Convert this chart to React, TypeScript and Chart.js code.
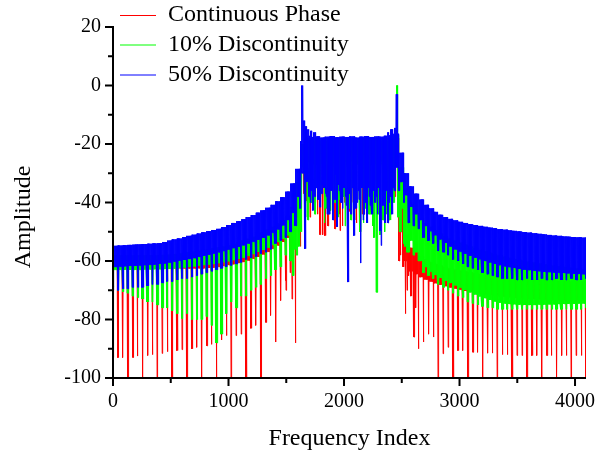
import React, { useEffect, useRef } from 'react';
import { Chart, registerables } from 'chart.js';
Chart.register(...registerables);

// ---------------- data ----------------
const X_MAX = 4095;
const xTicks = [0, 1000, 2000, 3000, 4000];
const xMinorTicks = [500, 1500, 2500, 3500];
const yTicks = [-100, -80, -60, -40, -20, 0, 20];
const yMinorTicks = [-90, -70, -50, -30, -10, 10];
const seriesNames = ['Continuous Phase', '10% Discontinuity', '50% Discontinuity'];
const seriesColors = ['#ff0000', '#00ff00', '#0000ff'];

// The spectrum repeats in "teeth" of 128/3 bins; one row = one 128-bin block (3 teeth).
// Band = dense fill between top and low of each tooth.
const SEGMENT = 128;
const SPIKE_OFFSETS = [0, 43, 85];

const blueTop = [
  [-54.8, -54.7, -54.6], [-54.5, -54.4, -54.3], [-54.2, -54.1, -54.0], [-53.9, -53.5, -53.0],
  [-52.6, -52.3, -51.8], [-51.4, -51.0, -50.6], [-50.2, -49.8, -49.4], [-49.0, -48.4, -47.7],
  [-47.0, -46.4, -45.7], [-45.0, -44.3, -43.5], [-42.7, -41.8, -40.8], [-39.6, -38.2, -36.3],
  [-33.5, -28.5, -19], [-17.2, -17.6, -17.4], [-17.8, -17.5, -17.3], [-17.7, -17.5, -17.6],
  [-17.4, -17.8, -17.5], [-17.3, -17.6, -17.4], [-17.5, -17.2, -17.0], [-16.5, -23, -30],
  [-34.5, -37, -39], [-40.8, -42, -43.2], [-44.2, -45, -45.6], [-46.1, -46.6, -47],
  [-47.4, -47.7, -48], [-48.3, -48.6, -48.8], [-49.1, -49.3, -49.5], [-49.7, -49.9, -50.1],
  [-50.3, -50.5, -50.7], [-50.9, -51.1, -51.3], [-51.4, -51.6, -51.7], [-51.8, -51.9, -52],
];
const blueLow = [
  [-62, -61.9, -61.8], [-61.7, -61.6, -61.5], [-61.4, -61.3, -61.2], [-61.0, -60.8, -60.5],
  [-60.2, -59.9, -59.6], [-59.3, -59.0, -58.6], [-58.2, -57.8, -57.4], [-57.0, -56.6, -56.1],
  [-55.6, -55.1, -54.6], [-54.0, -53.4, -52.7], [-52.0, -51.2, -50.3], [-49.2, -47.8, -46],
  [-43.5, -38, -30], [-30.5, -31, -30.2], [-30.8, -31.4, -30.3], [-30.6, -31.2, -30.4],
  [-30.9, -30.2, -31.1], [-30.5, -30.8, -30.1], [-30.6, -30.3, -29.8], [-28, -33, -37.5],
  [-41.5, -44, -46], [-48, -49.8, -51.2], [-52.6, -53.8, -55], [-56, -56.8, -57.5],
  [-58.2, -58.8, -59.4], [-60, -60.5, -61], [-61.4, -61.8, -62.1], [-62.4, -62.7, -62.9],
  [-63.1, -63.3, -63.5], [-63.7, -63.8, -63.9], [-64, -64.1, -64.2], [-64.3, -64.4, -64.5],
];
const greenTop = [
  [-58, -58, -58], [-58, -58, -58], [-58, -58, -58], [-58, -57.9, -57.8],
  [-57.6, -57.4, -57.2], [-57, -56.8, -56.5], [-56.2, -55.9, -55.6], [-55.3, -55.0, -54.6],
  [-54.1, -53.6, -53.0], [-52.4, -51.7, -51.0], [-50.2, -49.3, -48.3], [-47.2, -46, -44.5],
  [-41.5, -33, -20], [-18, -18, -18], [-18, -18, -18], [-18, -18, -18],
  [-18, -18, -18], [-18, -18, -18], [-18, -18, -18], [-17, -28, -35],
  [-40.5, -43.5, -45.5], [-47, -48.3, -49.5], [-50.6, -51.5, -52.3], [-53, -53.7, -54.4],
  [-55, -55.6, -56.2], [-56.7, -57.2, -57.7], [-58.1, -58.5, -58.9], [-59.3, -59.6, -59.9],
  [-60.2, -60.5, -60.8], [-61.1, -61.4, -61.6], [-61.8, -62, -62.2], [-62.4, -62.6, -62.8],
];
const greenLow = [
  [-63, -63, -63], [-63, -63, -63], [-62.9, -62.9, -62.8], [-62.8, -62.7, -62.6],
  [-62.5, -62.4, -62.2], [-62, -61.8, -61.6], [-61.4, -61.2, -61], [-60.7, -60.4, -60.1],
  [-59.7, -59.3, -58.8], [-58.2, -57.6, -56.9], [-56.2, -55.4, -54.5], [-53.5, -52.4, -51.2],
  [-49.5, -42, -28], [-27, -27, -27], [-27, -27, -27], [-27, -27, -27],
  [-27, -27, -27], [-27, -27, -27], [-27, -27, -27], [-27, -42, -48],
  [-53, -57, -60], [-62, -63.6, -64.8], [-65.8, -66.7, -67.5], [-68.3, -69.1, -69.9],
  [-70.7, -71.4, -72.1], [-72.7, -73.3, -73.8], [-74.2, -74.5, -74.7], [-74.8, -74.9, -75],
  [-75, -75, -74.9], [-74.9, -74.8, -74.8], [-74.7, -74.7, -74.6], [-74.6, -74.5, -74.5],
];
const redTop = [
  [-60, -60, -60], [-60, -60, -60], [-60, -60, -60], [-60, -60, -60],
  [-60, -60, -60], [-60, -60, -60], [-60, -59.9, -59.7], [-59.5, -59.2, -58.9],
  [-58.6, -58.2, -57.8], [-57.3, -56.7, -56], [-55.2, -54.3, -53.3], [-52.2, -51, -49.5],
  [-46, -36, -21], [-19, -19, -19], [-19, -19, -19], [-19, -19, -19],
  [-19, -19, -19], [-19, -19, -19], [-19, -19, -19], [-18, -40, -51],
  [-55.5, -57, -58.3], [-59.4, -60.3, -61], [-61.6, -62.1, -62.5], [-62.9, -63.2, -63.5],
  [-63.8, -64.1, -64.4], [-64.7, -64.9, -65.1], [-65.3, -65.5, -65.7], [-65.9, -66, -66.1],
  [-66.2, -66.3, -66.4], [-66.5, -66.6, -66.7], [-66.8, -66.8, -66.9], [-66.9, -67, -67],
];
const redLow = [
  [-62.5, -62.5, -62.5], [-62.5, -62.5, -62.5], [-62.5, -62.5, -62.5], [-62.5, -62.5, -62.5],
  [-62.5, -62.5, -62.5], [-62.5, -62.5, -62.5], [-62.5, -62.4, -62.2], [-62, -61.7, -61.4],
  [-61.1, -60.7, -60.3], [-59.8, -59.2, -58.5], [-57.7, -56.8, -55.8], [-54.7, -53.5, -52],
  [-52, -45, -27], [-26, -26, -26], [-26, -26, -26], [-26, -26, -26],
  [-26, -26, -26], [-26, -26, -26], [-26, -26, -26], [-26, -50, -60],
  [-63.5, -64.5, -65.5], [-66.3, -67, -67.6], [-68.1, -68.6, -69], [-69.4, -69.8, -70.2],
  [-70.5, -70.8, -71.1], [-71.4, -71.6, -71.8], [-72, -72.2, -72.4], [-72.6, -72.7, -72.8],
  [-72.9, -73, -73.1], [-73.2, -73.3, -73.4], [-73.4, -73.5, -73.5], [-73.5, -73.5, -73.5],
];

// periodic downward spikes at the start of each tooth
const redSpikes = [
  [-93, -93, -93], [-100, -93, -92.5], [-100, -92.3, -92], [-100, -91.6, -91], [-100, -90.6, -90.3],
  [-100, -90, -89.5], [-100, -89, -88.5], [-100, -87, -85.5], [-100, -85.5, -85], [-100, -83, -82],
  [-100, -81, -78.6], [-87.7, -73.5, -66.7], [-64, -88, -55], [-40, -45, -38], [-51, -42, -47],
  [-49, -44, -40], [-43, -46, -41], [-44, -39, -45], [-47, -42, -38], [-36, -60, -62],
  [-65, -86, -90], [-87.7, -85, -86], [-100, -91.7, -89.5], [-100, -90.6, -90.6], [-100, -91.2, -91.2],
  [-100, -91.5, -91.5], [-100, -92, -92], [-100, -92.3, -92.3], [-100, -92.3, -92.3], [-100, -92.3, -92.3],
  [-100, -92.3, -92.3], [-100, -92.3, -92.3], [-100],
];
const greenSpikes = [
  [-69, -70, -70.5], [-71, -72, -72.5], [-73, -74, -74], [-75, -76, -76], [-77, -78, -79.7],
  [-78, -80, -80], [-80, -79, -82], [-88, -85, -78], [-74, -76, -72], [-72, -70, -69],
  [-68, -66, -65], [-63, -62, -58], [-60, -56, -50], [-45, -40, -43], [-38, -47, -41],
  [-44, -39, -48], [-42, -46, -39], [-47, -41, -52], [-44, -50, -46], [-40, -50, -54],
  [-57, -58, -60], [-64, -65, -66], [-68, -69, -70], [-71, -72, -72.5], [-74, -74.5, -75],
  [-75.5, -76, -76], [-76.5, -76.5, -76.5], [-76.5, -76.5, -76.5], [-76.5, -76.5, -76.5], [-76.5, -76.5, -76.5],
  [-76.5, -76.5, -76.5], [-76.5, -76.5, -76.5], [-76],
];
const blueSpikes = [
  [-70, -70, -69.5], [-69.5, -69, -69], [-69, -68.5, -68], [-68, -67.5, -67], [-67, -66.5, -66],
  [-66, -65.5, -65], [-64.5, -64, -63.5], [-63, -62.5, -62], [-61.5, -61, -60.5], [-59.5, -59, -58.5],
  [-57.5, -57, -56], [-54, -53, -52], [-50, -48, -42], [-36, -40, -38], [-42, -37, -44],
  [-39, -45, -36], [-41, -38, -43], [-44, -37, -40], [-38, -42, -45], [-40, -36, -40],
  [-47, -48, -49], [-52, -53, -54], [-56.5, -57, -58], [-59.5, -60, -61], [-62, -62.5, -63],
  [-64, -64.5, -65], [-65.5, -66, -66], [-66, -66.5, -66.5], [-66, -66.5, -66.5], [-66, -66.5, -66.5],
  [-66, -66.5, -66.5], [-66, -66.5, -66.5], [-66],
];

// irregular spikes and peaks: [index, amplitude]
const blueExtras = [
  [1640, 0], [1652, -12], [1668, -14], [1690, -15], [1715, -15.5], [1745, -16], [2380, -16], [2410, -15],
  [2444, -14.5], [2458, -3],
  [1662, -55.8], [1700, -38], [1732, -42.7], [1760, -35], [1792, -41.6], [1815, -34], [1850, -38],
  [1870, -40], [1905, -46], [1940, -48.3], [1960, -36], [1990, -42], [2010, -38], [2035, -67.2],
  [2060, -44], [2090, -51.3], [2110, -40], [2147, -60.7], [2165, -46], [2199, -47], [2220, -38],
  [2240, -44], [2270, -40], [2290, -44], [2312, -49.6], [2326, -54.7], [2345, -40], [2355, -47],
  [2381, -47], [2400, -38], [2416, -44], [2436, -36],
  [1676, -33], [1722, -36], [1776, -39], [1804, -37], [1830, -35], [1860, -44], [1886, -36],
  [1920, -39], [1950, -34], [1976, -40], [2000, -35], [2024, -41], [2048, -37], [2076, -35],
  [2100, -42], [2124, -36], [2136, -39], [2156, -35], [2186, -40], [2210, -35], [2230, -41],
  [2256, -36], [2280, -38], [2300, -35], [2334, -41], [2366, -36], [2390, -40], [2426, -35],
];
const greenExtras = [
  [2460, 0], [1640, -20],
  [1560, -65], [1590, -58], [1610, -55], [1625, -50],
  [1688, -46], [1720, -40], [1750, -44], [1780, -38], [1840, -42], [1879, -42.7], [1920, -40],
  [1950, -45], [2000, -38], [2060, -46], [2100, -40], [2140, -50], [2180, -42], [2220, -44],
  [2250, -48], [2283, -70.7], [2310, -51], [2340, -46], [2370, -44], [2395, -46], [2420, -40],
  [2470, -45], [2490, -50], [2525, -55], [2545, -57],
];
const redExtras = [
  [1630, -28], [1650, -37], [1680, -39.4], [1710, -36], [1750, -40], [1770, -44], [1818, -51],
  [1835, -51.3], [1860, -48], [1875, -42.7], [1900, -40], [1940, -44], [1965, -49.6], [1985, -48],
  [2030, -42], [2080, -40], [2110, -47], [2140, -44], [2160, -44], [2200, -40], [2225, -43],
  [2260, -38], [2300, -42], [2340, -44], [2380, -46], [2410, -42], [2440, -38],
  [1500, -70], [1550, -73],
  [2470, -52], [2490, -58], [2505, -62], [2530, -78], [2545, -70], [2580, -72], [2620, -76],
];

// ---------------- series construction ----------------
function buildSeries(top: number[][], low: number[][], spikes: number[][], extras: number[][], halfWidth: number) {
  const topFlat = top.flat();
  const lowFlat = low.flat();
  const toothOf = (i: number) => Math.min(topFlat.length - 1, Math.floor((i * 3) / SEGMENT));
  const vals = new Map<number, number>();
  for (let i = 0; i <= X_MAX; i += 2) {
    const t = toothOf(i);
    vals.set(i, (i / 2) % 2 === 0 ? topFlat[t] : lowFlat[t]);
  }
  // a spike replaces only the "low" samples (downward) or the "top" samples (upward peaks)
  const put = (idx: number, v: number) => {
    const c = Math.min(X_MAX - 1, Math.max(0, Math.round(idx / 2) * 2));
    const t = toothOf(c);
    const upward = v > (topFlat[t] + lowFlat[t]) / 2;
    for (let k = c - halfWidth; k <= c + halfWidth; k += 2) {
      if (k < 0 || k > X_MAX) continue;
      const isTopSlot = (k / 2) % 2 === 0;
      if (isTopSlot === upward) vals.set(k, v);
    }
  };
  spikes.forEach((row, k) => row.forEach((v, j) => put(k * SEGMENT + SPIKE_OFFSETS[j], v)));
  extras.forEach(([idx, v]) => put(idx, v));
  return Array.from(vals.entries())
    .sort((a, b) => a[0] - b[0])
    .map(([x, y]) => ({ x, y }));
}

const FONT = "'Liberation Serif', 'Times New Roman', serif";

const decorPlugin = {
  id: 'decor',
  afterDraw(chart: any) {
    const { ctx, chartArea: ca, scales } = chart;
    const xs = scales.x;
    const ys = scales.y;
    ctx.save();
    ctx.strokeStyle = '#000';
    ctx.lineWidth = 2;
    ctx.beginPath();
    ctx.moveTo(ca.left, ca.top - 1);
    ctx.lineTo(ca.left, ca.bottom);
    ctx.lineTo(ca.right, ca.bottom);
    ctx.stroke();
    ctx.beginPath();
    yTicks.forEach((v) => {
      const p = ys.getPixelForValue(v);
      ctx.moveTo(ca.left - 8, p);
      ctx.lineTo(ca.left, p);
    });
    yMinorTicks.forEach((v) => {
      const p = ys.getPixelForValue(v);
      ctx.moveTo(ca.left - 5, p);
      ctx.lineTo(ca.left, p);
    });
    xTicks.forEach((v) => {
      const p = xs.getPixelForValue(v);
      ctx.moveTo(p, ca.bottom);
      ctx.lineTo(p, ca.bottom + 8);
    });
    xMinorTicks.forEach((v) => {
      const p = xs.getPixelForValue(v);
      ctx.moveTo(p, ca.bottom);
      ctx.lineTo(p, ca.bottom + 5);
    });
    ctx.stroke();

    // axis titles
    ctx.fillStyle = '#000';
    ctx.font = `24px ${FONT}`;
    ctx.textAlign = 'center';
    ctx.textBaseline = 'alphabetic';
    ctx.fillText('Frequency Index', (ca.left + ca.right) / 2, 445);
    ctx.save();
    ctx.translate(30, 217);
    ctx.rotate(-Math.PI / 2);
    ctx.fillText('Amplitude', 0, 0);
    ctx.restore();

    // legend
    const rows = [15, 44.5, 74.5];
    ctx.textAlign = 'left';
    seriesNames.forEach((name, i) => {
      ctx.strokeStyle = seriesColors[i];
      ctx.lineWidth = 1;
      ctx.beginPath();
      ctx.moveTo(120, rows[i] + 0.5);
      ctx.lineTo(156, rows[i] + 0.5);
      ctx.stroke();
      ctx.fillStyle = '#000';
      ctx.fillText(name, 168, rows[i] + 6);
    });
    ctx.restore();
  },
};

export default function App() {
  const ref = useRef<HTMLCanvasElement | null>(null);
  useEffect(() => {
    if (!ref.current) return;
    const red = buildSeries(redTop, redLow, redSpikes, redExtras, 2);
    const green = buildSeries(greenTop, greenLow, greenSpikes, greenExtras, 6);
    const blue = buildSeries(blueTop, blueLow, blueSpikes, blueExtras, 6);
    const ds = (label: string, data: any[], color: string, order: number) => ({
      label,
      data,
      borderColor: color,
      backgroundColor: color,
      borderWidth: 1,
      pointRadius: 0,
      tension: 0,
      fill: false,
      order,
    });
    const chart = new Chart(ref.current, {
      type: 'line',
      data: {
        datasets: [
          ds(seriesNames[0], red, seriesColors[0], 2),
          ds(seriesNames[1], green, seriesColors[1], 1),
          ds(seriesNames[2], blue, seriesColors[2], 0),
        ],
      },
      options: {
        animation: false,
        responsive: false,
        parsing: false,
        normalized: true,
        events: [],
        layout: { padding: { left: 0, right: 10, top: 27, bottom: 0 } },
        plugins: { legend: { display: false }, tooltip: { enabled: false } },
        scales: {
          x: {
            type: 'linear',
            min: 0,
            max: X_MAX,
            grid: { display: false, drawTicks: false },
            border: { display: false },
            ticks: {
              padding: 12,
              color: '#000',
              font: { family: FONT, size: 20 },
              callback: (v: any) => String(v),
              maxRotation: 0,
            },
            afterBuildTicks: (s: any) => {
              s.ticks = xTicks.map((v) => ({ value: v }));
            },
            afterFit: (s: any) => {
              s.height = 79;
              s.paddingLeft = 0;
              s.paddingRight = 0;
            },
          },
          y: {
            type: 'linear',
            min: -100,
            max: 20,
            grid: { display: false, drawTicks: false },
            border: { display: false },
            ticks: {
              padding: 12,
              color: '#000',
              font: { family: FONT, size: 20 },
              callback: (v: any) => String(v),
            },
            afterBuildTicks: (s: any) => {
              s.ticks = yTicks.map((v) => ({ value: v }));
            },
            afterFit: (s: any) => {
              s.width = 113;
              s.paddingTop = 0;
              s.paddingBottom = 0;
            },
          },
        },
      },
      plugins: [decorPlugin],
    } as any);
    return () => chart.destroy();
  }, []);
  return (
    <div style={{ position: 'fixed', left: 0, top: 0, width: 596, height: 457, background: '#fff' }}>
      <canvas ref={ref} width={596} height={457} style={{ width: 596, height: 457, display: 'block' }} />
    </div>
  );
}
